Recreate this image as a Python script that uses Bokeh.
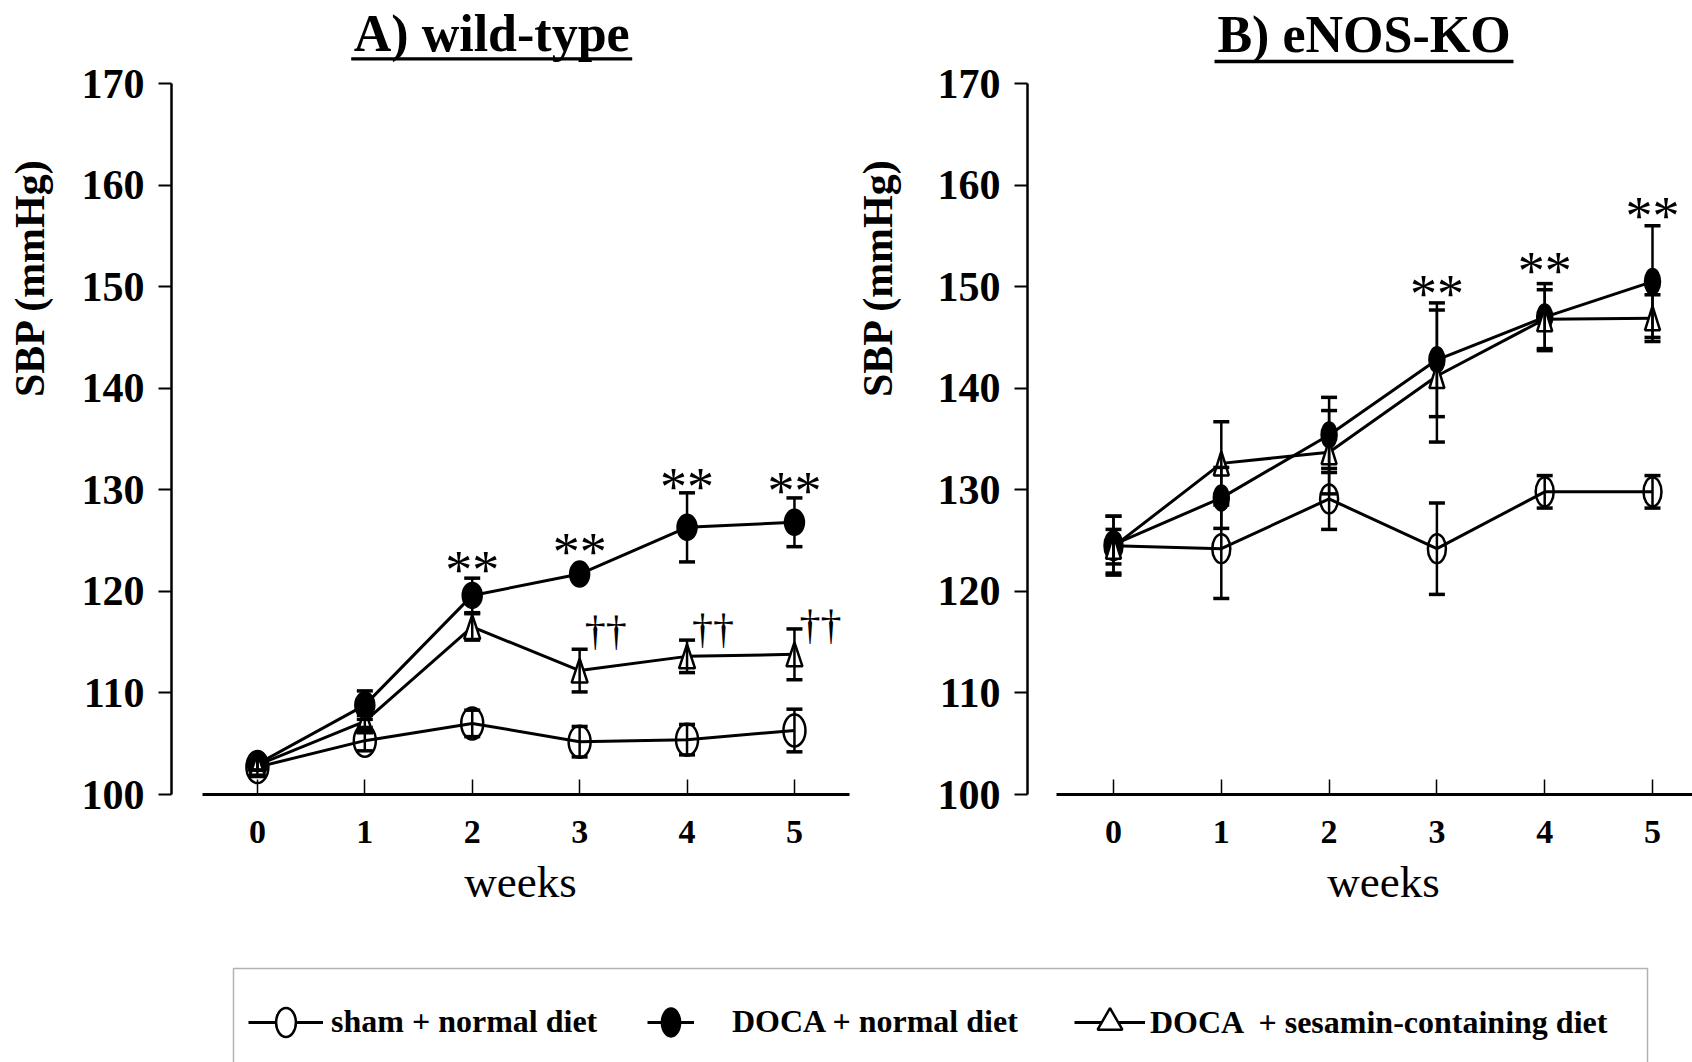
import math
from bokeh.plotting import figure
from bokeh.models import (Range1d, FixedTicker, Legend, LegendItem, Whisker,
                          ColumnDataSource, BoxAnnotation, TeeHead)
from bokeh.layouts import row, column
from bokeh.core.properties import value
from bokeh.embed import file_html
from bokeh.resources import INLINE

# ---------------- data ----------------
weeks = [0, 1, 2, 3, 4, 5]
y_ticks = [100, 110, 120, 130, 140, 150, 160, 170]
series_labels = ["sham + normal diet", "DOCA + normal diet", "DOCA  + sesamin-containing diet"]
titles = ["A) wild-type", "B) eNOS-KO"]

# Panel A: wild-type
sham_A = [102.7, 105.3, 107.0, 105.2, 105.4, 106.3]
sham_A_sem = [0.8, 1.0, 1.3, 1.5, 1.5, 2.1]
doca_A = [103.0, 108.8, 119.6, 121.7, 126.3, 126.8]
doca_A_sem = [0.6, 1.4, 1.7, 0.6, 3.4, 2.4]
ses_A = [102.9, 107.2, 116.5, 112.2, 113.6, 113.8]
ses_A_sem = [0.5, 0.6, 1.3, 2.1, 1.6, 2.5]
star_weeks_A = [2, 3, 4, 5]
star_level_A = [122.15, 123.83, 130.23, 129.9]
dagger_weeks_A = [3, 4, 5]
dagger_level_A = [116.1, 116.33, 116.7]

# Panel B: eNOS-KO
sham_B = [124.5, 124.2, 129.1, 124.2, 129.8, 129.8]
sham_B_sem = [2.9, 4.9, 3.0, 4.5, 1.6, 1.6]
doca_B = [124.6, 129.2, 135.4, 142.8, 147.0, 150.5]
doca_B_sem = [2.8, 3.0, 3.7, 5.6, 3.3, 5.5]
ses_B = [124.4, 132.6, 133.7, 141.2, 146.8, 146.9]
ses_B_sem = [1.7, 4.1, 4.1, 6.5, 2.9, 2.3]
star_weeks_B = [3, 4, 5]
star_level_B = [149.26, 151.56, 157.0]

FONT = "Liberation Serif"
PANEL_H = 919
PXY = 10.157                       # px per mmHg
Y_RANGE = (100 - (PANEL_H - 794) / PXY, 100 + 794 / PXY)

# layout parameters (screen geometry of each panel, in page pixels)
WA = 850
cfgA = dict(origin=0, width=WA, zero=256.9, pxx=107.41, yaxis_at=171, bounds=(-0.51, 5.51),
            open=(22, 32), filled=(20, 26), tri=(16, 24),
            title_x=491.2, title_mid=32.5, ul=(350.7, 631.7, 58.3),
            ylab_x=29, weeks_x=520)
cfgB = dict(origin=WA, width=1692 - WA, zero=1113, pxx=107.8, yaxis_at=1027, bounds=(-0.53, None),
            open=(18, 29), filled=(16, 26), tri=(15, 24),
            title_x=1363.5, title_mid=34.2, ul=(1214, 1513, 61),
            ylab_x=877, weeks_x=1383)


def build_panel(cfg, title, sham, sham_sem, doca, doca_sem, ses, ses_sem,
                star_w, star_y, dag_w=None, dag_y=None):
    W = cfg["width"]
    o = cfg["origin"]
    z, sx = cfg["zero"], cfg["pxx"]
    X = lambda px: (px - z) / sx          # page px -> weeks
    Y = lambda py: 100 + (794 - py) / PXY  # page px -> mmHg
    x_range = Range1d(X(o), X(o + W))
    p = figure(width=W, height=PANEL_H, x_range=x_range, y_range=Range1d(*Y_RANGE),
               output_backend="svg", toolbar_location=None, min_border=0)
    p.xgrid.visible = False
    p.ygrid.visible = False
    p.outline_line_color = None
    p.background_fill_color = "white"

    xa = p.xaxis[0]
    xa.fixed_location = 100
    xa.ticker = FixedTicker(ticks=weeks)
    b0, b1 = cfg["bounds"]
    xa.bounds = (b0, b1 if b1 is not None else X(o + W))
    xa.axis_line_width = 3
    xa.axis_line_color = "black"
    xa.major_tick_in = 15
    xa.major_tick_out = 0
    xa.major_tick_line_width = 1.5
    xa.minor_tick_line_color = None
    xa.major_label_standoff = 26
    xa.major_label_text_font = FONT
    xa.major_label_text_font_style = "bold"
    xa.major_label_text_font_size = "34px"
    xa.major_label_text_color = "black"

    ya = p.yaxis[0]
    ya.fixed_location = X(cfg["yaxis_at"])
    ya.ticker = FixedTicker(ticks=y_ticks)
    ya.bounds = (100, 170)
    ya.axis_line_width = 2.5
    ya.axis_line_color = "black"
    ya.major_tick_out = 13
    ya.major_tick_in = 0
    ya.major_tick_line_width = 2
    ya.minor_tick_line_color = None
    ya.major_label_standoff = 14
    ya.major_label_text_font = FONT
    ya.major_label_text_font_style = "bold"
    ya.major_label_text_font_size = "42px"
    ya.major_label_text_color = "black"

    # connecting lines
    for ys in (sham, doca, ses):
        p.line(weeks, ys, line_color="black", line_width=3)

    # markers
    p.ellipse(weeks, sham, width=cfg["open"][0], height=cfg["open"][1],
              width_units="screen", height_units="screen",
              fill_alpha=0, line_color="black", line_width=2.5)
    p.ellipse(weeks, doca, width=cfg["filled"][0], height=cfg["filled"][1],
              width_units="screen", height_units="screen",
              fill_color="black", line_color="black", line_width=1.5)
    hw = cfg["tri"][0] / 2 / sx
    hh = cfg["tri"][1] / 2 / PXY
    p.patches([[w - hw, w, w + hw] for w in weeks],
              [[v - hh, v + hh, v - hh] for v in ses],
              fill_color="white", line_color="black", line_width=2.5)

    # error bars (mean +/- SEM)
    for ys, es in ((sham, sham_sem), (doca, doca_sem), (ses, ses_sem)):
        src = ColumnDataSource(dict(x=weeks,
                                    lo=[v - e for v, e in zip(ys, es)],
                                    hi=[v + e for v, e in zip(ys, es)]))
        wk = Whisker(source=src, base="x", lower="lo", upper="hi",
                     line_color="black", line_width=2.5, level="annotation",
                     upper_head=TeeHead(size=16, line_width=3.5, line_color="black"),
                     lower_head=TeeHead(size=16, line_width=3.5, line_color="black"))
        p.add_layout(wk)

    # significance marks
    p.text(x=star_w, y=star_y, text=["**"] * len(star_w), text_font=value(FONT),
           text_font_size="54px", text_align="center", text_baseline="middle",
           text_color="black")
    if dag_w is not None:
        p.text(x=dag_w, y=dag_y, text=["\u2020\u2020"] * len(dag_w), x_offset=26,
               text_font=value(FONT), text_font_size="42px", text_align="center",
               text_baseline="middle", text_color="black")

    # underlined title
    p.text(x=[X(cfg["title_x"])], y=[Y(cfg["title_mid"])], text=[title], text_font=value(FONT),
           text_font_style="bold", text_font_size="52px", text_align="center",
           text_baseline="middle", text_color="black")
    u0, u1, uy = cfg["ul"]
    p.segment(x0=[X(u0)], y0=[Y(uy)], x1=[X(u1)], y1=[Y(uy)], line_color="black", line_width=3.3)

    # axis titles
    p.text(x=[X(cfg["ylab_x"])], y=[Y(277)], text=["SBP (mmHg)"], angle=math.pi / 2,
           text_font=value(FONT), text_font_style="bold", text_font_size="42px",
           text_align="center", text_baseline="middle", text_color="black")
    p.text(x=[X(cfg["weeks_x"])], y=[Y(897 - 0.3375 * 45)], text=["weeks"],
           text_font=value(FONT), text_font_size="45px",
           text_align="center", text_baseline="middle", text_color="black")
    return p


pA = build_panel(cfgA, titles[0], sham_A, sham_A_sem, doca_A, doca_A_sem, ses_A, ses_A_sem,
                 star_weeks_A, star_level_A, dagger_weeks_A, dagger_level_A)
pB = build_panel(cfgB, titles[1], sham_B, sham_B_sem, doca_B, doca_B_sem, ses_B, ses_B_sem,
                 star_weeks_B, star_level_B)

# ---------------- legend strip ----------------
LH = 1062 - PANEL_H
pL = figure(width=1692, height=LH, x_range=Range1d(0, 1692), y_range=Range1d(0, LH),
            output_backend="svg", toolbar_location=None, min_border=0,
            x_axis_location=None, y_axis_location=None)
pL.grid.visible = False
pL.outline_line_color = None
pL.extra_y_ranges = {"hid": Range1d(0, 1)}
pL.add_layout(BoxAnnotation(left=233, right=1647, top=LH - (968 - PANEL_H), bottom=-80,
                            fill_alpha=0, line_color="black", line_width=1.5))

l1 = pL.line(weeks, sham_A, line_color="black", line_width=3, y_range_name="hid")
e1 = pL.ellipse(weeks, sham_A, width=22, height=32, width_units="screen", height_units="screen",
                fill_color="white", line_color="black", line_width=2.5, y_range_name="hid")
l2 = pL.line(weeks, doca_A, line_color="black", line_width=3, y_range_name="hid")
e2 = pL.ellipse(weeks, doca_A, width=20, height=30, width_units="screen", height_units="screen",
                fill_color="black", line_color="black", line_width=1.5, y_range_name="hid")
l3 = pL.line(weeks, ses_A, line_color="black", line_width=3, y_range_name="hid")
t3 = pL.scatter(weeks, ses_A, marker="triangle", size=24, fill_color="white",
                line_color="black", line_width=2.5, y_range_name="hid")

CY = LH - (1022 - PANEL_H)  # legend row centre, measured from the bottom


def add_leg(label, rs, x, gw, gh, standoff):
    leg = Legend(items=[LegendItem(label=label, renderers=rs, index=0)],
                 location=(x, CY - gh / 2), orientation="horizontal",
                 glyph_width=gw, glyph_height=gh, label_height=gh,
                 label_standoff=standoff, padding=0, margin=0, spacing=0,
                 border_line_color=None, background_fill_alpha=0,
                 label_text_font=FONT, label_text_font_style="bold",
                 label_text_font_size="32px", label_text_color="black")
    pL.add_layout(leg)


add_leg(series_labels[0], [l1, e1], 248, 75, 36, 8)
add_leg(series_labels[1], [l2, e2], 647, 47, 36, 38)
add_leg(series_labels[2], [l3, t3], 1074, 71, 62, 5)

layout = column(row(pA, pB), pL)
open("out.html", "w").write(file_html(layout, INLINE))
